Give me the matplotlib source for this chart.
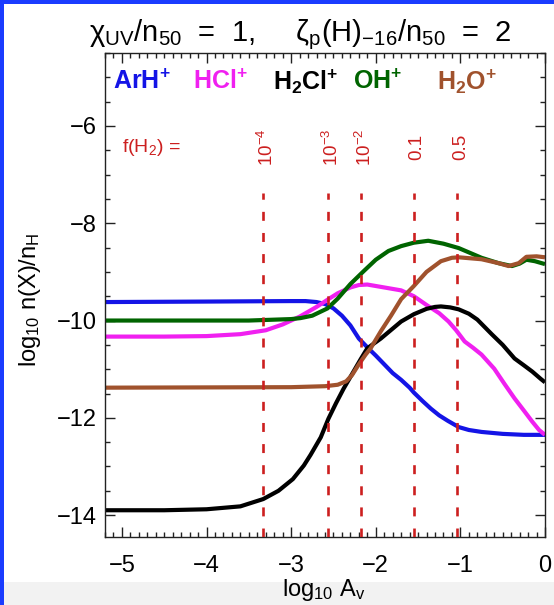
import matplotlib
matplotlib.use("Agg")
import matplotlib.pyplot as plt
from matplotlib.patches import Rectangle
from matplotlib.ticker import MultipleLocator

plt.rcParams['font.family'] = ['Liberation Sans', 'DejaVu Sans']
plt.rcParams['mathtext.fontset'] = 'custom'
plt.rcParams['mathtext.rm'] = 'Liberation Sans'
plt.rcParams['mathtext.it'] = 'Liberation Sans:italic'
plt.rcParams['mathtext.bf'] = 'Liberation Sans:bold'

# ---------------- data (log10 Av, log10 n(X)/nH) ----------------
arh_x = [-5.2, -4.0, -3.0, -2.83, -2.7, -2.6, -2.5, -2.4, -2.3, -2.2, -2.1, -2.0, -1.9, -1.8,
         -1.7, -1.6, -1.55, -1.45, -1.35, -1.25, -1.15, -1.02, -0.9, -0.75, -0.5, -0.25, 0.0]
arh_y = [-9.62, -9.61, -9.60, -9.60, -9.62, -9.66, -9.75, -9.90, -10.10, -10.37, -10.55, -10.72,
         -10.90, -11.08, -11.22, -11.38, -11.48, -11.65, -11.81, -11.95, -12.06, -12.19, -12.25,
         -12.29, -12.33, -12.35, -12.35]

hcl_x = [-5.2, -4.5, -4.0, -3.6, -3.3, -3.1, -2.9, -2.7, -2.55, -2.45, -2.3, -2.2, -2.1, -1.9,
         -1.7, -1.55, -1.4, -1.25, -1.14, -1.05, -0.95, -0.85, -0.75, -0.6, -0.48, -0.36, -0.25,
         -0.15, -0.07, 0.0]
hcl_y = [-10.33, -10.33, -10.32, -10.28, -10.20, -10.08, -9.92, -9.72, -9.55, -9.44, -9.32,
         -9.27, -9.26, -9.32, -9.38, -9.50, -9.68, -9.85, -10.02, -10.20, -10.43, -10.56,
         -10.70, -10.99, -11.30, -11.60, -11.85, -12.08, -12.25, -12.35]

h2cl_x = [-5.2, -4.5, -4.0, -3.6, -3.33, -3.15, -2.98, -2.85, -2.77, -2.65, -2.56, -2.47, -2.38,
          -2.28, -2.18, -2.1, -1.94, -1.7, -1.55, -1.4, -1.3, -1.23, -1.12, -1.02, -0.9, -0.8,
          -0.63, -0.5, -0.36, -0.25, -0.15, -0.05, 0.0]
h2cl_y = [-13.90, -13.90, -13.88, -13.82, -13.67, -13.50, -13.26, -12.98, -12.76, -12.40, -12.02,
          -11.70, -11.40, -11.10, -10.80, -10.57, -10.37, -10.02, -9.87, -9.76, -9.72, -9.71,
          -9.73, -9.77, -9.86, -9.98, -10.28, -10.50, -10.78, -10.92, -11.05, -11.20, -11.27]

oh_x = [-5.2, -3.5, -3.0, -2.89, -2.75, -2.57, -2.45, -2.3, -2.14, -2.0, -1.85, -1.7, -1.55,
        -1.38, -1.2, -1.02, -0.75, -0.55, -0.39, -0.3, -0.22, -0.12, 0.0]
oh_y = [-10.00, -10.00, -9.97, -9.95, -9.90, -9.75, -9.55, -9.25, -8.98, -8.75, -8.57, -8.47,
        -8.40, -8.36, -8.42, -8.51, -8.71, -8.82, -8.88, -8.83, -8.75, -8.78, -8.84]

h2o_x = [-5.2, -3.0, -2.6, -2.45, -2.35, -2.28, -2.2, -2.12, -2.06, -1.94, -1.82, -1.7, -1.55,
         -1.4, -1.23, -1.1, -1.02, -0.75, -0.55, -0.43, -0.31, -0.22, -0.1, 0.0]
h2o_y = [-11.38, -11.37, -11.35, -11.32, -11.25, -11.12, -10.90, -10.70, -10.57, -10.22, -9.90,
         -9.56, -9.29, -9.00, -8.78, -8.71, -8.70, -8.74, -8.82, -8.88, -8.82, -8.69, -8.68, -8.70]

species = ['ArH', 'HCl', 'H2Cl', 'OH', 'H2O']
species_labels = [r'$\mathbf{ArH^{+}}$', r'$\mathbf{HCl^{+}}$', r'$\mathbf{H_2Cl^{+}}$',
                  r'$\mathbf{OH^{+}}$', r'$\mathbf{H_2O^{+}}$']
colors = ['#1414e6', '#f020f0', '#000000', '#006400', '#a0522d']

fh2_pos = [-3.33, -2.56, -2.17, -1.55, -1.04]
fh2_labels = [r'10$^{-4}$', r'10$^{-3}$', r'10$^{-2}$', '0.1', '0.5']

# ---------------- figure ----------------
W, H = 554, 605
fig = plt.figure(figsize=(W / 100, H / 100), dpi=100)
fig.patch.set_facecolor('white')

# screenshot frame
fig.patches.append(Rectangle((0, 0), 1, 23 / H, transform=fig.transFigure,
                             facecolor='#f2f2f2', edgecolor='none', zorder=0))
fig.patches.append(Rectangle((0, 0), 4 / W, 1, transform=fig.transFigure,
                             facecolor='#1a3cff', edgecolor='none', zorder=1))
fig.patches.append(Rectangle((0, 1 - 4 / H), 1, 4 / H, transform=fig.transFigure,
                             facecolor='#1a3cff', edgecolor='none', zorder=1))

ax = fig.add_axes([105 / W, 1 - 537 / H, 440 / W, 484 / H])
ax.set_xlim(-5.2, 0)
ax.set_ylim(-14.45, -4.5)

xs = [arh_x, hcl_x, h2cl_x, oh_x, h2o_x]
ys = [arh_y, hcl_y, h2cl_y, oh_y, h2o_y]

red = '#cc1f1f'
for p in fh2_pos:
    ax.plot([p, p], [-14.45, -7.37], color=red, lw=1.9, linestyle=(0, (3.4, 4.6)), zorder=3)

for x, y, c in zip(xs, ys, colors):
    ax.plot(x, y, color=c, lw=3.0, solid_capstyle='butt', solid_joinstyle='round', zorder=2)

for p, lab in zip(fh2_pos, fh2_labels):
    ax.text(p + 0.04, -6.44, lab, rotation=90, color=red, fontsize=13.5,
            ha='center', va='center')
ax.text(-5.0, -6.44, r'f(H$_2$) =', color=red, fontsize=14, ha='left', va='center')

# legend-like labels
leg_x = [113, 193, 273, 353, 437]
for lx, lab, c in zip(leg_x, species_labels, colors):
    fig.text(lx / W, 1 - 82 / H, lab, color=c, fontsize=18, ha='left', va='center')

# ticks
ax.xaxis.set_major_locator(MultipleLocator(1))
ax.xaxis.set_minor_locator(MultipleLocator(0.1))
ax.yaxis.set_major_locator(MultipleLocator(2))
ax.yaxis.set_minor_locator(MultipleLocator(0.5))
ax.tick_params(which='both', direction='in', top=True, right=True, colors='#222222',
               labelcolor='black', labelsize=17)
ax.tick_params(which='major', length=7, width=1.0)
ax.tick_params(which='minor', length=3.5, width=1.0)
ax.tick_params(axis='x', which='major', pad=13)
ax.tick_params(axis='y', which='major', pad=6)
ax.set_xticks([-5, -4, -3, -2, -1, 0])
ax.set_xticklabels(['\u22125', '\u22124', '\u22123', '\u22122', '\u22121', '0'])
ax.set_yticks([-14, -12, -10, -8, -6])
ax.set_yticklabels(['\u221214', '\u221212', '\u221210', '\u22128', '\u22126'])
for s in ax.spines.values():
    s.set_color('#222222')
    s.set_linewidth(1.0)

fig.text(30 / W, 1 - 300 / H, r'log$_{10}$ n(X)/n$_{\rm H}$', rotation=90,
         fontsize=17, ha='center', va='center')
fig.text(324 / W, 1 - 590 / H, r'log$_{10}$ A$_{\rm v}$', fontsize=17,
         ha='center', va='center', zorder=5)
fig.text(300 / W, 1 - 35 / H,
         r'χ$_{\rm UV}$/n$_{\rm 50}$  =  1,     ζ$_{\rm p}$(H)$_{-16}$/n$_{\rm 50}$  =  2',
         fontsize=21, ha='center', va='center')

fig.savefig('out.png', dpi=100)
